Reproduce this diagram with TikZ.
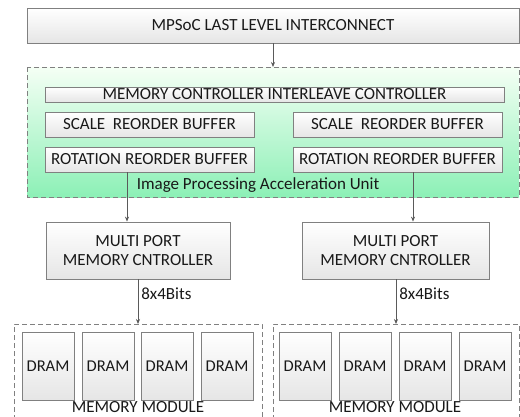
\documentclass[tikz,border=0pt]{standalone}
\usepackage{fontspec}
\setmainfont{Carlito}
\usetikzlibrary{arrows.meta}
\definecolor{edge}{RGB}{128,128,128}
\definecolor{wire}{RGB}{90,90,90}
\definecolor{mint}{RGB}{140,240,182}
\definecolor{txt}{RGB}{25,25,25}
\tikzset{
  blk/.style={draw=edge, line width=0.8pt, top color=white, bottom color=black!10,
    inner sep=0pt, align=center, text=txt, font=\fontsize{17}{19.5}\selectfont},
  grp/.style={draw=edge, line width=0.8pt, dash pattern=on 5pt off 3pt},
  wirearrow/.style={draw=wire, line width=0.7pt, -{Stealth[length=5pt,width=4pt]}},
  lbl/.style={text=txt, font=\fontsize{17}{19.5}\selectfont, inner sep=0pt}
}
\begin{document}
\begin{tikzpicture}[x=1pt,y=-1pt]
\useasboundingbox (0,0) rectangle (520,416);
% interconnect
\node[blk, minimum width=492pt, minimum height=35pt] (ic) at (273,25.5) {MPSoC LAST LEVEL INTERCONNECT};
% acceleration unit
\path[grp, top color=green!4!white, bottom color=mint] (27,67) rectangle (519,197);
\coordinate (iautop) at (273,67);
\node[blk, minimum width=459pt, minimum height=15pt] (mci) at (274.5,94.5) {MEMORY CONTROLLER INTERLEAVE CONTROLLER};
\node[blk, minimum width=209pt, minimum height=25pt] (sl) at (149.5,124.5) {SCALE\ \ REORDER BUFFER};
\node[blk, minimum width=209pt, minimum height=25pt] (sr) at (397.5,124.5) {SCALE\ \ REORDER BUFFER};
\node[blk, minimum width=209pt, minimum height=25pt] (rl) at (149.5,159.5) {ROTATION REORDER BUFFER};
\node[blk, minimum width=209pt, minimum height=25pt] (rr) at (397.5,159.5) {ROTATION REORDER BUFFER};
\node[lbl] (iau) at (258,185) {Image Processing Acceleration Unit};
% memory controllers
\node[blk, minimum width=184pt, minimum height=57pt] (mpl) at (138,250.5) {MULTI PORT\\MEMORY CNTROLLER};
\node[blk, minimum width=187pt, minimum height=57pt] (mpr) at (395.5,250.5) {MULTI PORT\\MEMORY CNTROLLER};
% memory modules
\path[grp] (14,420) -- (14,324) -- (262,324) -- (262,420);
\path[grp] (273,420) -- (273,324) -- (519,324) -- (519,420);
\coordinate (mml) at (138,324);
\coordinate (mmr) at (396,324);
\foreach \x/\n in {48/l1,108/l2,167/l3,227/l4,305/r1,365/r2,425/r3,485/r4}
  \node[blk, minimum width=52pt, minimum height=68pt, font=\fontsize{16.5}{19}\selectfont] (d\n) at (\x,366) {DRAM};
\node[lbl] (mmlt) at (138,407) {MEMORY MODULE};
\node[lbl] (mmrt) at (395,407) {MEMORY MODULE};
% connectors
\draw[wirearrow] (ic.south -| iautop) -- (iautop);
\coordinate (al) at (127,172);
\coordinate (ar) at (413,172);
\draw[wirearrow] (al) -- (al |- mpl.north);
\draw[wirearrow] (ar) -- (ar |- mpr.north);
\draw[wirearrow] (mpl.south -| mml) -- (mml) node[lbl, pos=0.33, right=3pt] {8x4Bits};
\draw[wirearrow] (mpr.south -| mmr) -- (mmr) node[lbl, pos=0.33, right=3pt] {8x4Bits};
\end{tikzpicture}
\end{document}
